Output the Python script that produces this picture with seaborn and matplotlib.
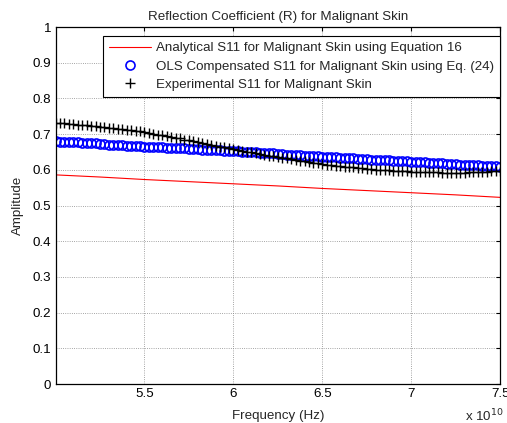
import numpy as np
import pandas as pd
import matplotlib
matplotlib.use("Agg")
import matplotlib.pyplot as plt
from matplotlib.ticker import FuncFormatter, MultipleLocator
import seaborn as sns

sns.set_theme(style="white")
plt.rcParams["font.family"] = ["Liberation Sans", "DejaVu Sans"]

# Frequency sweep (Hz)
freq_analytical = np.linspace(5.0e10, 7.5e10, 11)
freq_measured = np.linspace(5.0e10, 7.5e10, 101)

# Analytical S11 (Equation 16)
s11_analytical = [0.586, 0.580, 0.573, 0.567, 0.561, 0.555, 0.548, 0.542, 0.536, 0.530, 0.523]

# OLS compensated S11 (Eq. 24)
s11_ols = [
    0.680, 0.679, 0.679, 0.678, 0.677, 0.677, 0.676, 0.675, 0.675, 0.674, 0.673,
    0.672, 0.671, 0.671, 0.670, 0.669, 0.668, 0.668, 0.667, 0.666, 0.665,
    0.664, 0.664, 0.663, 0.663, 0.662, 0.662, 0.661, 0.660, 0.660, 0.659,
    0.658, 0.658, 0.657, 0.657, 0.656, 0.656, 0.655, 0.654, 0.654, 0.653,
    0.652, 0.651, 0.651, 0.650, 0.649, 0.648, 0.647, 0.647, 0.646, 0.645,
    0.644, 0.643, 0.643, 0.642, 0.641, 0.640, 0.639, 0.639, 0.638, 0.637,
    0.636, 0.636, 0.635, 0.634, 0.634, 0.633, 0.632, 0.631, 0.631, 0.630,
    0.629, 0.629, 0.628, 0.627, 0.627, 0.626, 0.625, 0.624, 0.624, 0.623,
    0.622, 0.622, 0.621, 0.620, 0.620, 0.619, 0.618, 0.617, 0.617, 0.616,
    0.615, 0.615, 0.614, 0.613, 0.613, 0.612, 0.611, 0.610, 0.610, 0.609,
]

# Experimental S11
s11_experimental = [
    0.732, 0.731, 0.730, 0.729, 0.728, 0.727, 0.726, 0.725, 0.724, 0.722, 0.721,
    0.720, 0.718, 0.717, 0.715, 0.714, 0.712, 0.711, 0.709, 0.708, 0.706,
    0.704, 0.701, 0.699, 0.697, 0.694, 0.692, 0.690, 0.688, 0.685, 0.683,
    0.680, 0.678, 0.675, 0.673, 0.670, 0.668, 0.665, 0.663, 0.660, 0.658,
    0.656, 0.653, 0.651, 0.649, 0.647, 0.645, 0.643, 0.640, 0.638, 0.636,
    0.634, 0.632, 0.630, 0.628, 0.626, 0.624, 0.622, 0.620, 0.618, 0.616,
    0.615, 0.613, 0.612, 0.611, 0.609, 0.608, 0.607, 0.606, 0.604, 0.603,
    0.602, 0.601, 0.600, 0.600, 0.599, 0.598, 0.597, 0.597, 0.596, 0.595,
    0.595, 0.594, 0.594, 0.593, 0.593, 0.593, 0.592, 0.592, 0.592, 0.592,
    0.592, 0.592, 0.593, 0.593, 0.594, 0.595, 0.595, 0.596, 0.597, 0.598,
]

labels = [
    "Analytical S11 for Malignant Skin using Equation 16",
    "OLS Compensated S11 for Malignant Skin using Eq. (24)",
    "Experimental S11 for Malignant Skin",
]

df_a = pd.DataFrame({"f": freq_analytical, "s11": s11_analytical})
df_o = pd.DataFrame({"f": freq_measured, "s11": s11_ols})
df_e = pd.DataFrame({"f": freq_measured, "s11": s11_experimental})

fs = 9.6
fig = plt.figure(figsize=(5.07, 4.23), dpi=100)
ax = fig.add_axes([0.1095, 0.092, 0.877, 0.844])

sns.lineplot(data=df_a, x="f", y="s11", ax=ax, color="red", linewidth=0.8,
             label=labels[0])
sns.lineplot(data=df_o, x="f", y="s11", ax=ax, linestyle="none", marker="o",
             markersize=6.5, markerfacecolor="none", markeredgecolor="blue",
             markeredgewidth=1.2, color="blue", label=labels[1])
sns.lineplot(data=df_e, x="f", y="s11", ax=ax, linestyle="none", marker="+",
             markersize=7, markeredgewidth=1.0, markeredgecolor="black",
             color="black", label=labels[2])

ax.set_xlim(5.0e10, 7.5e10)
ax.set_ylim(0, 1)
ax.set_xticks([5.5e10, 6.0e10, 6.5e10, 7.0e10, 7.5e10])
ax.xaxis.set_major_formatter(FuncFormatter(lambda v, p: f"{v / 1e10:g}"))
ax.yaxis.set_major_locator(MultipleLocator(0.1))
ax.yaxis.set_major_formatter(FuncFormatter(lambda v, p: f"{v:g}"))

ax.grid(True, color="#888888", linestyle=":", linewidth=0.6)
ax.tick_params(axis="both", direction="in", length=3, width=0.8, labelsize=fs,
               top=True, right=True, colors="black", pad=3)
for s in ax.spines.values():
    s.set_color("black")
    s.set_linewidth(0.9)

ax.set_title("Reflection Coefficient (R) for Malignant Skin", fontsize=fs, pad=5)
ax.set_xlabel("Frequency (Hz)", fontsize=fs, labelpad=7)
ax.set_ylabel("Amplitude", fontsize=fs, labelpad=6)
ax.text(0.92, -0.088, r"x 10$^{10}$", transform=ax.transAxes, fontsize=fs,
        ha="left", va="center")

leg = ax.legend(loc="upper right", bbox_to_anchor=(1.0, 0.975), fontsize=fs,
                frameon=True, fancybox=False, framealpha=1, borderaxespad=0,
                handlelength=3.1, handletextpad=0.4, labelspacing=0.45,
                borderpad=0.45)
leg.get_frame().set_edgecolor("black")
leg.get_frame().set_linewidth(0.8)

fig.savefig("out.png", dpi=100)
